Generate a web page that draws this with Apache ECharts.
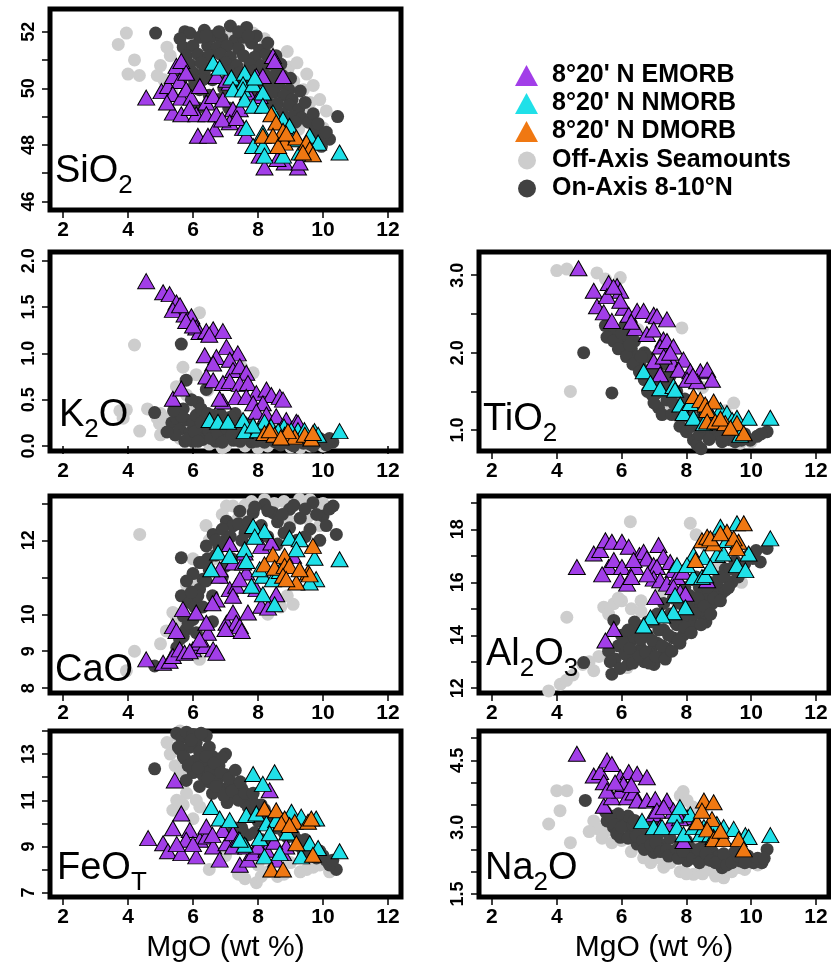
<!DOCTYPE html>
<html><head><meta charset="utf-8">
<script src="https://cdn.jsdelivr.net/npm/echarts@6/dist/echarts.min.js"></script>
<style>html,body{margin:0;padding:0;background:#fff}#c{width:831px;height:968px}</style>
</head><body><div id="c"></div>
<script>
// ---------------- DATA (MgO wt%, oxide wt%) ----------------
const SERIES_NAMES = ['Off-Axis Seamounts', 'On-Axis 8-10°N', "8°20' N EMORB", "8°20' N NMORB", "8°20' N DMORB"];
const xTicks = [2, 4, 6, 8, 10, 12];

// SiO2
const sio2Off = [[3.95,51.95],[3.7,51.55],[4.2,51.0],[4.0,50.5],[4.35,50.45],[4.9,50.45],[5.0,50.8],[5.3,51.15],[5.1,50.3],[5.35,49.9],[5.2,51.45],[7.45,51.6],[7.85,51.95],[7.0,51.95],[6.7,51.3],[8.3,51.4],[8.6,51.0],[8.95,50.75],[9.1,50.25],[9.4,49.95],[9.6,49.5],[9.25,48.55],[9.8,48.55],[9.2,49.1],[9.5,49.2],[8.9,50.6],[9.7,49.0],[10.0,48.6],[9.2,50.9],[9.5,50.5],[9.7,50.1],[9.9,49.6],[10.1,49.2],[8.9,51.3],[8.2,51.75]];
const sio2On = [[4.85,51.95],[5.75,52.0],[5.9,51.95],[6.35,52.05],[6.6,51.85],[7.15,52.2],[7.65,52.15],[5.6,51.75],[6.2,51.8],[6.9,51.75],[7.3,51.7],[7.55,51.8],[7.8,51.6],[5.7,51.45],[6.0,51.5],[6.45,51.5],[6.75,51.45],[7.05,51.5],[7.4,51.4],[8.05,51.35],[5.8,51.15],[6.15,51.2],[6.5,51.15],[6.85,51.2],[7.15,51.1],[7.55,51.15],[7.9,51.1],[8.25,51.2],[5.9,50.85],[6.25,50.9],[6.6,50.8],[7.0,50.9],[7.35,50.8],[7.75,50.85],[8.1,50.8],[8.4,50.85],[6.0,50.55],[6.35,50.6],[7.1,50.6],[7.45,50.55],[7.85,50.6],[8.2,50.5],[8.55,50.5],[8.75,50.45],[5.65,50.35],[6.05,50.25],[6.3,50.3],[7.0,50.25],[8.0,50.25],[8.35,50.2],[8.65,50.15],[8.95,49.95],[5.85,49.95],[6.2,49.95],[6.5,49.75],[7.9,49.9],[8.2,49.85],[8.5,49.85],[8.8,49.75],[9.05,49.6],[6.15,49.3],[8.3,49.5],[8.6,49.45],[8.95,49.4],[9.25,49.25],[8.75,49.1],[9.05,49.0],[9.35,48.95],[8.95,48.7],[9.15,48.8],[9.55,48.8],[9.75,48.45],[9.95,48.2],[10.2,48.2],[9.95,47.95],[10.45,49.0],[6.8,52.0],[7.4,52.0],[7.95,51.85],[8.3,51.6],[8.55,51.15],[8.7,50.85],[9.0,50.35],[9.3,49.9],[9.45,49.5],[9.7,49.1],[9.85,48.75],[10.1,48.45],[6.95,50.0],[7.3,50.1],[7.6,50.3],[6.6,50.3],[6.8,49.6],[7.1,49.3],[6.4,51.85],[7.7,51.85]];
const sio2E = [[4.56,49.67],[5.03,49.9],[5.23,50.08],[5.38,50.43],[5.49,50.79],[5.64,50.96],[5.59,50.26],[5.38,49.8],[5.64,49.67],[5.79,49.96],[5.95,49.67],[5.38,49.14],[5.64,49.08],[6.1,49.08],[6.41,49.5],[6.62,49.73],[6.41,49.08],[6.72,49.08],[6.15,48.32],[6.67,48.55],[6.46,48.32],[6.92,49.6],[7.23,49.26],[7.13,48.8],[7.44,49.26],[7.13,50.2],[7.54,50.14],[7.69,49.85],[7.95,50.43],[7.54,48.6],[7.64,48.32],[8.05,49.73],[8.15,50.43],[8.46,51.14],[8.51,50.96],[8.77,50.43],[8.05,47.62],[8.2,47.2],[8.82,47.38],[9.23,47.2],[9.28,47.38],[6.72,50.43],[7.03,50.3],[6.21,50.08],[5.79,50.55],[5.2,49.5],[5.9,49.3],[6.9,48.9],[7.35,48.95],[8.6,47.5]];
const sio2N = [[6.62,50.9],[6.82,50.73],[7.18,50.38],[7.59,50.55],[7.54,50.14],[7.23,49.96],[7.54,49.96],[7.85,50.14],[7.9,50.38],[8.15,49.85],[7.59,49.6],[7.85,49.38],[8.15,49.38],[8.46,49.14],[7.64,48.6],[8.15,48.43],[7.85,47.96],[8.15,47.96],[8.2,47.62],[8.77,48.9],[8.97,48.67],[8.77,47.62],[9.28,47.73],[9.59,48.32],[9.85,48.08],[10.51,47.73],[9.1,48.2]];
const sio2D = [[8.41,49.08],[8.56,48.79],[8.77,48.5],[8.15,48.32],[8.46,48.32],[8.82,48.08],[9.18,48.26],[9.49,48.08],[8.62,47.96],[9.59,47.85],[9.69,47.67],[9.38,47.73],[8.87,48.4]];

// K2O
const k2oOff = [[4.2,1.09],[3.95,0.39],[3.75,0.38],[4.36,0.16],[4.97,0.24],[5.2,0.2],[5.49,0.64],[5.69,0.85],[6.1,0.77],[6.2,1.44],[7.85,0.79],[5.8,0.55],[6.0,0.45],[6.45,0.6],[7.5,0.85],[5.3,0.28],[5.0,0.12],[6.5,0.02],[7.0,0.0],[7.6,0.0],[8.3,0.0],[9.0,-0.01],[9.6,0.0],[5.6,0.08],[8.8,0.03],[4.9,0.3],[5.1,0.3],[5.25,0.2],[5.45,0.35],[4.6,0.4],[3.85,0.3],[5.0,0.35],[6.9,-0.02],[8.0,-0.02],[9.3,-0.02],[10.0,0.0]];
const k2oOn = [[4.82,0.36],[5.64,1.1],[5.79,0.71],[6.41,0.61],[6.15,0.47],[5.95,0.5],[5.7,0.4],[5.35,0.25],[5.5,0.3],[5.6,0.18],[5.8,0.28],[5.9,0.14],[6.0,0.24],[6.1,0.33],[6.2,0.17],[6.3,0.07],[6.35,0.28],[6.5,0.15],[6.6,0.33],[6.7,0.05],[6.8,0.2],[6.95,0.3],[7.0,0.11],[7.1,0.22],[7.25,0.06],[7.4,0.17],[7.5,0.27],[7.6,0.09],[7.8,0.04],[7.9,0.15],[8.0,0.1],[8.2,0.04],[8.4,0.08],[8.6,0.03],[8.8,0.07],[9.0,0.02],[9.2,0.06],[9.4,0.03],[9.6,0.02],[9.8,0.04],[10.0,0.06],[10.3,0.04],[6.25,0.4],[5.75,0.05],[6.0,0.05],[7.3,0.35],[8.3,0.18],[8.9,0.12],[5.45,0.12],[5.65,0.32],[5.85,0.08],[6.05,0.15],[6.15,0.05],[6.25,0.25],[6.45,0.35],[6.55,0.08],[6.65,0.22],[6.75,0.14],[6.85,0.34],[6.9,0.04],[7.05,0.18],[7.15,0.31],[7.2,0.12],[7.35,0.24],[7.45,0.05],[7.55,0.18],[7.7,0.12],[7.75,0.24],[7.95,0.05],[8.1,0.16],[8.25,0.11],[8.5,0.05],[8.55,0.15],[8.7,0.01],[8.95,0.08],[9.1,0.0],[9.3,0.1],[9.5,0.07],[9.7,0.0],[9.9,0.08],[10.1,0.01],[10.2,0.08],[5.2,0.15],[5.4,0.38]];
const k2oE = [[4.56,1.78],[5.08,1.66],[5.28,1.64],[5.49,1.55],[5.59,1.48],[5.38,1.47],[5.74,1.42],[5.95,1.4],[5.79,1.35],[6.1,1.28],[6.2,1.23],[6.41,1.24],[6.62,1.26],[6.92,1.24],[7.03,1.07],[7.38,1.0],[6.36,0.98],[6.72,0.96],[6.62,0.89],[7.13,0.93],[7.23,0.82],[7.44,0.86],[7.64,0.79],[6.41,0.75],[6.62,0.71],[6.92,0.68],[7.13,0.7],[7.44,0.67],[7.69,0.68],[7.95,0.57],[8.26,0.61],[8.41,0.55],[8.67,0.53],[8.77,0.5],[5.38,0.51],[5.64,0.62],[6.92,0.48],[7.33,0.53],[7.64,0.53],[7.85,0.46],[8.15,0.46],[7.95,0.37],[8.26,0.34],[8.56,0.32],[8.87,0.28],[9.18,0.26],[9.23,0.25],[6.82,0.51],[5.6,1.52],[6.0,1.3],[6.5,1.2]];
const k2oN = [[6.51,0.28],[6.77,0.26],[7.08,0.26],[7.54,0.28],[7.59,0.16],[8.0,0.17],[8.2,0.26],[8.4,0.21],[8.8,0.21],[9.23,0.17],[9.43,0.17],[9.74,0.16],[10.51,0.16],[8.62,0.16],[9.02,0.17],[9.85,0.12],[7.85,0.22]];
const k2oD = [[8.2,0.14],[8.51,0.12],[8.82,0.12],[9.13,0.1],[9.44,0.12],[9.64,0.08],[8.36,0.17],[8.92,0.16],[9.69,0.14],[8.7,0.09]];

// TiO2
const tio2Off = [[4.0,3.06],[4.31,3.08],[5.24,3.03],[5.96,2.97],[4.42,1.5],[7.86,2.32],[7.81,1.13],[8.02,1.05],[8.74,1.0],[9.36,0.87],[9.66,0.83],[9.46,1.35],[7.5,1.3],[8.3,0.95],[9.0,0.9],[6.5,2.3],[7.2,1.6],[8.5,1.55],[9.2,1.25],[10.0,0.85],[5.5,2.95]];
const tio2On = [[4.83,2.0],[5.7,1.48],[8.22,0.87],[8.33,0.81],[8.45,0.76],[5.5,2.35],[5.65,2.26],[5.8,2.3],[5.96,2.17],[6.06,2.04],[6.2,2.2],[6.3,2.05],[6.48,1.95],[6.58,1.83],[6.7,2.0],[6.89,1.61],[6.95,1.8],[7.09,1.48],[7.14,1.29],[7.2,1.7],[7.4,1.39],[7.45,1.6],[7.6,1.35],[7.7,1.5],[7.91,1.18],[7.95,1.4],[8.1,1.25],[8.3,1.1],[8.5,1.2],[8.6,1.0],[8.8,1.1],[8.9,0.95],[9.05,0.92],[9.2,1.05],[9.4,0.95],[9.6,0.9],[9.8,0.95],[9.97,0.87],[10.18,0.92],[10.49,0.98],[6.1,2.35],[6.4,2.15],[6.8,1.95],[7.3,1.85],[7.5,1.7],[5.55,2.2],[5.75,2.15],[5.9,2.05],[6.15,1.95],[6.35,1.85],[6.55,1.75],[6.7,1.65],[6.8,1.5],[6.95,1.45],[7.0,1.35],[7.25,1.2],[7.35,1.55],[7.55,1.2],[7.8,1.05],[7.85,1.3],[8.0,0.98],[8.15,1.05],[8.4,0.95],[8.45,1.05],[8.7,0.88],[9.1,0.85],[9.3,0.88],[9.5,0.85],[9.7,0.87],[10.3,0.95],[6.0,2.25],[6.25,2.1],[6.6,1.95],[7.0,1.65]];
const tio2E = [[4.67,3.09],[5.14,2.8],[5.6,2.9],[5.86,2.86],[5.96,2.8],[5.24,2.6],[5.45,2.52],[5.7,2.41],[6.06,2.58],[6.22,2.49],[6.48,2.54],[6.68,2.54],[6.99,2.49],[7.09,2.47],[7.4,2.43],[6.42,2.32],[6.78,2.24],[6.99,2.3],[7.29,2.17],[7.19,2.08],[7.4,2.15],[7.6,2.08],[6.99,1.89],[7.19,1.72],[7.6,1.85],[7.91,1.91],[7.76,1.78],[8.12,1.76],[8.43,1.76],[8.64,1.78],[8.79,1.65],[8.02,1.65],[8.33,1.63],[5.55,2.73],[5.96,2.67],[5.75,2.85],[6.3,2.4],[7.3,1.95],[7.5,2.0],[8.2,1.7]];
const tio2N = [[6.68,1.76],[6.89,1.61],[7.19,1.54],[7.6,1.57],[7.65,1.52],[7.81,1.33],[7.91,1.22],[8.22,1.16],[8.54,1.09],[8.64,1.29],[9.05,1.26],[9.25,1.22],[9.41,1.13],[9.56,1.16],[9.92,1.16],[9.66,0.94],[10.59,1.16],[8.12,1.35],[9.0,1.1]];
const tio2D = [[8.22,1.44],[8.43,1.39],[8.58,1.33],[8.84,1.37],[8.64,1.26],[8.64,1.11],[8.89,1.11],[9.2,1.09],[9.56,1.09],[9.77,0.96],[9.05,1.15],[9.36,1.03]];

// CaO
const caoOff = [[4.36,12.16],[4.2,9.0],[3.95,8.47],[5.18,9.55],[5.38,10.05],[6.2,8.78],[7.23,12.93],[7.03,12.93],[7.6,12.95],[9.08,12.93],[9.28,13.11],[9.08,10.27],[6.62,11.49],[6.1,10.86],[5.8,10.8],[5.5,9.9],[6.4,12.4],[8.5,13.0],[9.9,12.9],[9.5,12.6],[5.0,9.2],[8.9,10.5],[6.9,12.7],[7.4,12.6],[7.8,13.05],[8.2,13.1],[8.8,13.05],[9.6,13.1],[10.0,13.0],[6.5,12.0],[6.0,11.5],[5.7,10.5],[9.0,12.5],[9.9,12.4],[8.7,10.2],[8.3,10.0],[6.3,9.4],[5.6,9.7]];
const caoOn = [[4.82,8.6],[5.64,11.53],[5.64,10.5],[6.62,12.16],[7.03,12.52],[7.44,12.79],[8.2,12.97],[8.46,12.75],[8.97,12.84],[9.69,13.02],[10.31,12.93],[10.41,12.16],[10.0,12.66],[8.97,12.34],[8.6,12.5],[6.2,10.68],[6.31,10.95],[5.9,10.32],[6.0,9.86],[5.79,9.59],[5.59,9.32],[6.2,11.4],[6.41,11.85],[7.23,12.39],[7.85,12.75],[6.8,11.8],[7.0,12.0],[7.6,12.2],[8.1,12.4],[8.3,12.1],[9.3,12.6],[9.6,12.3],[9.9,12.0],[6.5,11.2],[6.0,11.1],[6.6,10.5],[5.8,10.9],[6.3,10.2],[5.7,9.95],[7.2,11.5],[6.9,11.0],[8.6,11.9],[9.2,12.0],[5.45,8.9],[6.1,9.5],[6.6,9.8],[5.5,9.1],[5.7,9.4],[5.85,9.75],[6.05,10.2],[6.15,10.5],[6.4,10.9],[6.45,11.5],[6.7,11.6],[6.9,12.3],[7.15,12.1],[7.4,12.45],[7.7,12.5],[7.9,12.9],[8.3,12.8],[8.75,12.7],[9.1,12.95],[9.45,12.85],[9.8,12.7],[10.1,12.4],[10.2,12.85],[8.8,12.2],[9.45,12.1],[6.3,11.4],[6.7,12.0],[7.0,11.3],[5.95,10.6],[7.5,12.0],[8.0,12.15]];
const caoE = [[4.56,8.78],[5.08,8.69],[5.28,8.74],[5.38,8.87],[5.59,9.05],[5.74,8.96],[6.0,9.05],[6.2,9.23],[6.36,9.14],[6.62,9.05],[6.72,8.96],[6.46,9.5],[5.38,9.68],[5.49,9.55],[5.69,10.14],[6.1,10.05],[6.2,9.32],[6.41,9.77],[6.72,10.4],[7.03,9.77],[7.23,10.05],[7.33,9.77],[7.44,9.68],[7.69,10.05],[6.82,11.04],[7.13,10.68],[7.33,10.77],[7.23,10.5],[7.64,11.13],[7.13,11.9],[7.23,11.4],[7.54,11.4],[7.44,10.95],[6.82,11.22],[8.1,10.23],[8.31,10.18],[8.56,10.54],[7.95,10.68],[8.1,11.85],[7.59,11.67],[8.41,11.94],[9.08,11.58],[6.6,10.3],[7.0,9.6],[7.5,9.55],[5.9,9.0]];
const caoN = [[6.56,11.22],[6.77,11.67],[7.13,11.58],[7.59,11.76],[7.64,11.44],[7.85,12.39],[8.2,12.25],[7.8,10.77],[8.15,10.54],[8.51,10.27],[8.15,11.04],[8.46,10.95],[8.05,11.22],[8.97,12.07],[9.28,12.03],[9.18,11.76],[9.74,11.53],[9.79,10.95],[9.59,10.86],[10.51,11.49],[8.67,11.17],[7.9,12.1]];
const caoD = [[8.46,11.62],[8.82,11.58],[8.2,11.35],[8.51,11.26],[8.82,11.31],[8.97,11.31],[8.77,11.04],[9.18,10.86],[9.54,11.13],[9.59,11.08],[9.69,11.85],[9.28,11.22],[8.87,10.95]];

// Al2O3
const al2o3Off = [[6.27,18.29],[8.12,18.23],[4.31,14.68],[5.45,15.06],[5.76,15.19],[6.0,15.3],[5.14,12.66],[4.11,12.15],[3.75,11.9],[9.36,16.08],[9.6,16.3],[6.17,12.78],[5.3,13.2],[6.6,15.3],[7.2,15.6],[8.6,17.4],[8.3,17.8],[4.8,12.9],[9.0,16.6],[5.6,14.8],[5.9,15.4],[6.3,15.0],[6.6,14.9],[5.0,13.0],[4.5,12.5],[4.3,12.3],[9.7,16.0]];
const al2o3On = [[4.83,12.97],[5.7,12.53],[5.76,14.56],[5.6,13.4],[5.8,13.1],[5.9,13.6],[6.1,13.3],[6.2,12.9],[6.3,13.8],[6.4,13.2],[6.5,14.1],[6.6,13.5],[6.7,13.0],[6.8,14.0],[6.9,13.4],[7.0,14.5],[7.1,13.7],[7.2,13.2],[7.3,14.2],[7.4,13.5],[7.5,14.8],[7.6,13.9],[7.7,14.4],[7.8,15.2],[7.9,14.0],[8.0,14.7],[8.1,15.5],[8.2,14.4],[8.3,15.0],[8.4,15.8],[8.5,14.8],[8.6,15.4],[8.7,16.0],[8.8,15.2],[8.9,15.7],[9.0,16.2],[9.1,15.6],[9.2,16.5],[9.4,16.0],[9.5,16.8],[9.7,16.5],[9.9,17.0],[10.28,16.77],[10.49,17.28],[6.0,14.0],[6.4,14.5],[7.3,15.2],[8.2,16.1],[7.0,12.9],[7.8,13.7],[8.6,14.5],[9.2,15.7],[5.65,13.0],[5.95,12.75],[6.05,13.7],[6.25,13.5],[6.35,12.95],[6.55,13.2],[6.6,13.85],[6.75,13.35],[6.85,12.95],[6.95,13.8],[7.05,13.2],[7.15,14.2],[7.25,13.6],[7.35,13.1],[7.45,14.0],[7.55,13.4],[7.65,14.5],[7.75,13.8],[7.85,14.6],[7.95,14.3],[8.05,15.1],[8.15,14.1],[8.25,14.8],[8.35,15.4],[8.45,14.4],[8.55,15.1],[8.65,15.8],[8.75,14.8],[8.85,15.4],[8.95,16.0],[9.05,15.3],[9.15,16.2],[9.3,15.8],[9.35,16.5],[9.6,16.2],[9.8,16.7],[10.05,16.9],[10.15,17.2],[7.6,15.4],[7.95,15.8],[8.3,16.2],[7.1,14.8],[6.8,14.5],[6.2,14.2]];
const al2o3E = [[4.62,16.58],[5.14,17.09],[5.34,17.22],[5.5,17.59],[5.7,17.53],[5.6,16.58],[5.76,16.84],[6.01,16.58],[5.96,16.08],[6.17,15.95],[6.01,17.53],[6.22,17.34],[6.43,16.58],[6.55,17.03],[6.68,17.15],[6.78,16.9],[6.99,16.65],[7.14,17.41],[7.29,16.96],[7.09,16.58],[7.5,16.77],[7.6,16.46],[6.99,16.14],[7.19,16.08],[7.4,15.95],[7.71,16.2],[7.6,15.82],[7.04,15.44],[7.81,15.63],[7.97,15.57],[8.64,16.08],[5.76,14.24],[5.5,13.8],[6.37,16.84],[5.4,16.3],[6.3,16.2],[6.8,16.3],[7.9,16.4]];
const al2o3N = [[7.71,16.65],[7.65,15.51],[7.97,15.06],[7.6,14.87],[7.25,14.75],[6.89,14.68],[6.68,14.37],[8.22,16.2],[8.48,16.2],[8.58,16.27],[8.22,17.03],[8.54,16.96],[8.94,17.03],[9.15,17.09],[9.05,18.1],[9.25,17.6],[9.56,16.65],[9.82,16.46],[9.92,17.09],[10.59,17.66],[9.56,18.23],[8.74,16.58],[8.02,16.65]];
const al2o3D = [[8.28,16.84],[8.48,17.59],[8.84,17.47],[8.64,17.72],[9.25,17.91],[9.77,18.23],[9.61,17.53],[8.74,17.66],[9.46,17.66],[9.05,17.85],[9.55,17.3]];

// FeOT
const feotOff = [[5.38,10.57],[6.21,10.71],[5.8,11.3],[6.0,10.2],[5.5,13.8],[5.2,13.5],[7.95,7.43],[8.3,7.9],[8.8,7.8],[9.3,7.9],[7.4,7.8],[9.7,8.1],[6.5,8.0],[7.0,8.6],[8.0,8.2],[9.0,8.3],[5.6,14.0],[6.5,12.8],[10.0,8.4],[5.3,13.0],[5.45,12.5],[5.6,12.2],[5.5,11.0],[5.7,10.8],[6.1,11.0],[7.6,7.6],[8.1,7.7],[8.6,7.7],[9.5,8.0],[9.9,8.2],[10.2,7.9]];
const feotOn = [[4.82,12.36],[5.5,13.9],[5.65,13.7],[5.8,13.95],[6.0,13.85],[6.1,13.5],[6.41,13.79],[5.6,13.2],[5.9,13.3],[6.2,13.1],[6.5,13.3],[5.75,12.8],[6.05,12.7],[6.35,12.6],[6.6,12.9],[6.0,12.2],[6.3,12.1],[6.55,12.3],[6.8,12.5],[5.79,11.86],[6.2,11.6],[6.5,11.8],[6.75,11.9],[7.0,12.1],[6.6,11.3],[6.9,11.5],[7.15,11.7],[7.3,11.2],[7.5,11.5],[7.05,10.9],[7.6,10.9],[7.8,11.1],[7.9,10.5],[8.1,10.8],[8.0,10.1],[8.3,10.3],[8.5,9.9],[8.7,10.2],[8.8,9.6],[9.0,9.7],[9.2,9.3],[9.5,9.0],[9.7,8.6],[9.9,8.8],[10.1,8.4],[10.41,8.0],[9.4,8.7],[7.3,9.8],[7.7,9.5],[8.1,9.3],[7.0,13.0],[6.9,12.85],[5.55,13.3],[5.7,12.9],[5.85,12.5],[5.95,13.6],[6.15,12.4],[6.25,13.9],[6.4,12.9],[6.45,11.95],[6.65,12.6],[6.7,11.6],[6.85,12.2],[6.95,11.2],[7.1,11.95],[7.2,11.4],[7.3,12.3],[7.4,11.0],[7.45,11.8],[7.6,11.3],[7.7,10.7],[7.85,11.3],[7.95,10.8],[8.05,10.4],[8.2,10.6],[8.25,10.05],[8.45,10.2],[8.6,9.8],[8.75,9.9],[8.9,9.4],[9.1,9.5],[9.3,9.0],[9.45,9.3],[9.6,8.8],[9.8,8.5],[10.0,8.6],[10.2,8.2],[10.3,8.4],[7.2,9.6],[7.5,9.8],[7.9,9.6],[8.3,9.2]];
const feotE = [[4.62,9.36],[5.08,9.14],[5.23,8.79],[5.44,11.86],[5.64,10.43],[5.64,8.71],[5.38,9.79],[5.9,9.71],[6.1,8.57],[6.21,9.29],[6.41,9.43],[6.62,9.0],[6.82,8.43],[7.03,9.14],[7.23,9.0],[7.44,8.21],[7.69,8.43],[7.64,9.0],[7.85,8.71],[8.36,11.43],[8.77,8.71],[8.56,8.43],[8.26,8.86],[6.41,9.86],[5.79,9.29],[6.92,9.71],[7.23,9.57],[8.87,9.0],[5.5,9.1],[6.0,9.1],[6.6,9.5],[7.4,9.3],[8.0,9.0],[8.5,9.2]];
const feotN = [[7.85,12.14],[8.51,12.21],[8.15,11.71],[6.56,10.71],[6.82,10.21],[7.13,10.14],[7.64,10.36],[7.95,10.43],[8.26,10.0],[8.56,10.14],[9.03,10.5],[9.33,10.29],[9.79,10.21],[7.59,9.07],[8.05,9.36],[8.36,9.57],[8.2,8.57],[8.67,8.71],[9.33,8.57],[9.59,9.14],[9.85,8.93],[10.51,8.79],[7.44,9.29],[8.9,9.6]];
const feotD = [[8.2,10.64],[8.56,10.57],[8.82,10.21],[8.72,10.0],[9.13,10.07],[9.54,10.07],[9.64,10.21],[9.18,9.14],[9.69,8.64],[8.41,8.0],[8.77,8.0],[8.97,9.93]];

// Na2O
const na2oOff = [[4.0,3.82],[4.31,3.82],[4.1,3.37],[3.75,3.07],[4.42,2.65],[5.14,3.14],[5.55,2.92],[6.68,2.31],[7.81,3.71],[8.02,3.6],[7.81,2.0],[8.22,1.94],[9.15,1.86],[9.66,2.09],[8.7,2.05],[10.0,2.2],[6.0,2.7],[7.2,2.3],[5.3,2.95],[8.5,3.4],[7.5,2.2],[5.0,2.9],[5.4,2.75],[5.7,2.65],[6.3,2.45],[6.9,2.2],[7.3,2.1],[8.0,1.95],[8.5,1.95],[8.9,1.9],[9.4,2.0],[9.8,2.05],[10.2,2.15],[7.9,3.8],[8.2,3.45]];
const na2oOn = [[4.88,3.6],[5.55,3.14],[5.5,3.35],[5.75,3.0],[5.96,2.77],[6.1,3.1],[6.3,2.9],[6.48,2.62],[6.6,2.95],[6.8,2.75],[6.99,2.43],[7.1,2.8],[7.3,2.6],[7.6,2.43],[7.5,2.75],[7.8,2.6],[8.02,2.24],[8.1,2.55],[8.3,2.4],[8.64,2.28],[8.5,2.55],[8.8,2.45],[9.1,2.09],[9.0,2.35],[9.3,2.3],[9.5,2.45],[9.66,2.24],[9.9,2.35],[10.07,2.2],[10.33,2.2],[10.49,2.5],[6.2,3.25],[5.9,3.3],[7.0,3.05],[5.65,3.25],[5.8,3.05],[5.85,2.85],[6.0,3.0],[6.2,2.75],[6.35,3.05],[6.45,2.8],[6.65,2.7],[6.7,2.5],[6.9,2.6],[7.05,2.65],[7.2,2.45],[7.4,2.5],[7.45,2.35],[7.7,2.5],[7.75,2.3],[7.9,2.45],[8.2,2.3],[8.35,2.5],[8.4,2.2],[8.6,2.4],[8.75,2.25],[8.9,2.2],[9.15,2.4],[9.25,2.15],[9.4,2.2],[9.6,2.35],[9.8,2.2],[10.2,2.3],[10.4,2.3],[6.4,3.15],[7.2,2.9],[8.0,2.7]];
const na2oE = [[4.62,4.65],[5.14,4.16],[5.34,4.24],[5.55,4.5],[5.7,4.42],[5.45,4.01],[5.96,4.12],[6.22,4.24],[6.48,4.2],[6.78,4.12],[5.45,3.48],[5.7,3.67],[5.96,3.82],[6.17,3.67],[6.37,3.78],[6.48,3.6],[6.78,3.6],[7.04,3.63],[7.4,3.6],[6.99,3.29],[7.09,3.37],[7.5,3.07],[7.6,3.37],[7.19,3.0],[8.02,3.22],[7.91,2.69],[6.06,3.97],[5.55,3.82],[5.8,4.0],[6.3,3.95],[7.3,3.45],[7.8,3.2]];
const na2oN = [[6.63,3.14],[6.99,3.0],[7.25,3.0],[7.65,3.26],[7.71,3.0],[7.91,2.84],[8.12,3.29],[8.22,3.0],[8.43,2.84],[8.54,3.0],[8.94,3.07],[9.15,3.0],[9.46,2.96],[9.82,2.82],[9.92,2.78],[10.59,2.82],[8.74,2.84],[8.84,2.78],[7.8,3.45]];
const na2oD = [[8.54,3.6],[8.84,3.56],[8.33,3.11],[8.79,3.18],[8.64,2.95],[8.84,2.73],[9.15,2.73],[9.61,2.73],[9.77,2.5],[9.05,2.92],[8.48,3.37]];

// Y-axis tick values and labelled ticks
const sio2Ticks = [46,47,48,49,50,51,52],  sio2Labels = [46,48,50,52];
const k2oTicks  = [0,0.5,1,1.5,2],         k2oLabels  = [0,0.5,1,1.5,2];
const tio2Ticks = [1,1.5,2,2.5,3],         tio2Labels = [1,2,3];
const caoTicks  = [8,9,10,11,12,13],       caoLabels  = [8,9,10,12];
const al2o3Ticks= [12,13,14,15,16,17,18,19], al2o3Labels = [12,14,16,18];
const feotTicks = [7,8,9,10,11,12,13,14],  feotLabels = [7,9,11,13];
const na2oTicks = [1.5,2,2.5,3,3.5,4,4.5,5], na2oLabels = [1.5,3,4.5];

// ---------------- LAYOUT / STYLE ----------------
const FONT = '"Liberation Sans", Arial, Helvetica, sans-serif';
const COLS = [{left:50, width:351}, {left:479, width:350}];
const ROWS = [{top:9, height:201}, {top:252, height:199}, {top:496, height:197}, {top:731, height:166}];
const STY = [
  {symbol:'circle', size:13, color:'#cdcdcd', border:0},
  {symbol:'circle', size:13, color:'#414141', border:0},
  {symbol:'triangle', size:[17,15], color:'#a23ee8', border:1},
  {symbol:'triangle', size:[17,15], color:'#20e0e8', border:1},
  {symbol:'triangle', size:[17,15], color:'#f07812', border:1}
];

const panels = [
  {col:0,row:0,ymin:45.7,ymax:52.8,ticks:sio2Ticks,labels:sio2Labels,dec:0,data:[sio2Off,sio2On,sio2E,sio2N,sio2D],
   title:[['SiO',0],['2',1]], tx:55, tb:185},
  {col:0,row:1,ymin:-0.055,ymax:2.095,ticks:k2oTicks,labels:k2oLabels,dec:1,data:[k2oOff,k2oOn,k2oE,k2oN,k2oD],
   title:[['K',0],['2',1],['O',0]], tx:59, tb:429},
  {col:1,row:1,ymin:0.73,ymax:3.30,ticks:tio2Ticks,labels:tio2Labels,dec:1,data:[tio2Off,tio2On,tio2E,tio2N,tio2D],
   title:[['TiO',0],['2',1]], tx:483, tb:433},
  {col:0,row:2,ymin:7.87,ymax:13.2,ticks:caoTicks,labels:caoLabels,dec:0,data:[caoOff,caoOn,caoE,caoN,caoD],
   title:[['CaO',0]], tx:55, tb:684},
  {col:1,row:2,ymin:11.82,ymax:19.26,ticks:al2o3Ticks,labels:al2o3Labels,dec:0,data:[al2o3Off,al2o3On,al2o3E,al2o3N,al2o3D],
   title:[['Al',0],['2',1],['O',0],['3',1]], tx:486, tb:668},
  {col:0,row:3,ymin:6.81,ymax:14.0,ticks:feotTicks,labels:feotLabels,dec:0,data:[feotOff,feotOn,feotE,feotN,feotD],
   title:[['FeO',0],['T',1]], tx:57, tb:882, bottom:true},
  {col:1,row:3,ymin:1.43,ymax:5.16,ticks:na2oTicks,labels:na2oLabels,dec:1,data:[na2oOff,na2oOn,na2oE,na2oN,na2oD],
   title:[['Na',0],['2',1],['O',0]], tx:485, tb:882, bottom:true}
];

const grid = [], xAxis = [], yAxis = [], series = [], graphic = [];
const mctx = document.createElement('canvas').getContext('2d');
const MAIN = 38, SUB = 26;

panels.forEach((p, i) => {
  grid.push({left:COLS[p.col].left, width:COLS[p.col].width, top:ROWS[p.row].top, height:ROWS[p.row].height,
    show:true, borderColor:'#000', borderWidth:5, backgroundColor:'#fff', containLabel:false});
  xAxis.push({type:'value', gridIndex:i, min:1.6, max:12.4,
    axisLine:{show:false}, splitLine:{show:false},
    axisTick:{show:true, length:8, customValues:xTicks, lineStyle:{color:'#000', width:1.5}},
    axisLabel:{customValues:xTicks, margin:10, fontSize:21, fontWeight:'bold', color:'#000', fontFamily:FONT},
    name: p.bottom ? 'MgO (wt %)' : '', nameLocation:'middle', nameGap:36,
    nameTextStyle:{fontSize:30, color:'#000', fontFamily:FONT}});
  yAxis.push({type:'value', gridIndex:i, min:p.ymin, max:p.ymax,
    axisLine:{show:false}, splitLine:{show:false},
    axisTick:{show:true, length:8, customValues:p.ticks, lineStyle:{color:'#000', width:1.5}},
    axisLabel:{customValues:p.labels, rotate:90, margin:12, fontSize:18, fontWeight:'bold', color:'#000', fontFamily:FONT,
      formatter: v => Number(v).toFixed(p.dec)}});
  p.data.forEach((d, k) => {
    const s = STY[k];
    series.push({type:'scatter', name:SERIES_NAMES[k], xAxisIndex:i, yAxisIndex:i, data:d,
      symbol:s.symbol, symbolSize:s.size, clip:true, silent:true,
      itemStyle:{color:s.color, borderColor:'#000', borderWidth:s.border, opacity:1}});
  });
  // panel label with subscripts
  let x = p.tx;
  p.title.forEach(([t, isSub]) => {
    const fs = isSub ? SUB : MAIN;
    const font = fs + 'px ' + FONT;
    mctx.font = font;
    const base = isSub ? p.tb + 10 : p.tb;
    graphic.push({type:'text', x:x, y:base - 0.35*fs, z:100,
      style:{text:t, font:font, fill:'#000', align:'left', verticalAlign:'middle'}});
    x += mctx.measureText(t).width;
  });
});

const legendText = {fontSize:25, fontWeight:'bold', color:'#000', fontFamily:FONT};
const option = {
  animation:false,
  backgroundColor:'#fff',
  grid, xAxis, yAxis, series, graphic,
  legend:[
    {orient:'vertical', left:510, top:58, itemWidth:23, itemHeight:21, itemGap:3, icon:'triangle', selectedMode:false,
     textStyle:Object.assign({padding:[0,0,0,9]}, legendText),
     data:[2,3,4].map(k => ({name:SERIES_NAMES[k], itemStyle:{color:STY[k].color, borderWidth:0}}))},
    {orient:'vertical', left:513, top:143, itemWidth:18, itemHeight:18, itemGap:3, icon:'circle', selectedMode:false,
     textStyle:Object.assign({padding:[0,0,0,11]}, legendText),
     data:[0,1].map(k => ({name:SERIES_NAMES[k], itemStyle:{color:STY[k].color, borderWidth:0}}))}
  ]
};
const chart = echarts.init(document.getElementById('c'), null, {renderer:'canvas'});
chart.setOption(option);
</script></body></html>
